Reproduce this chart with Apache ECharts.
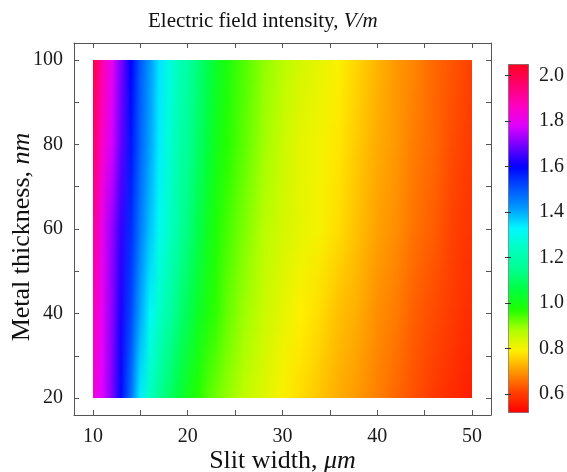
<!DOCTYPE html>
<html>
<head>
<meta charset="utf-8">
<script src="https://cdn.jsdelivr.net/npm/echarts@6/dist/echarts.min.js"></script>
<style>
  html, body { margin: 0; background: #fff; }
  #chart { width: 567px; height: 472px; }
</style>
</head>
<body>
<div id="chart"></div>
<script>
// slit width (um) sample columns
const slitWidth = [10, 11, 12, 13, 14, 15, 16, 17, 18, 19, 20, 21, 22, 23, 24,
  26, 28, 30, 32, 34, 36, 38, 40, 42, 44, 46, 48, 50];
// metal thickness (nm) sample rows
const thickness = [20, 40, 60, 80, 100];
// field intensity (V/m), one row per thickness
const field20 = [1.83, 1.78, 1.70, 1.59, 1.47, 1.34, 1.24, 1.16, 1.11, 1.06, 1.01, 0.97, 0.94, 0.92, 0.90,
  0.86, 0.83, 0.795, 0.77, 0.745, 0.72, 0.70, 0.675, 0.65, 0.625, 0.60, 0.58, 0.56];
const field40 = [1.88, 1.80, 1.71, 1.62, 1.52, 1.41, 1.32, 1.25, 1.19, 1.13, 1.08, 1.03, 0.99, 0.96, 0.93,
  0.89, 0.85, 0.82, 0.79, 0.77, 0.74, 0.72, 0.69, 0.67, 0.64, 0.62, 0.60, 0.58];
const field60 = [1.93, 1.81, 1.72, 1.64, 1.55, 1.46, 1.38, 1.31, 1.25, 1.19, 1.13, 1.08, 1.02, 0.98, 0.95,
  0.91, 0.87, 0.84, 0.82, 0.80, 0.77, 0.74, 0.71, 0.69, 0.66, 0.64, 0.61, 0.59];
const field80 = [1.98, 1.86, 1.77, 1.68, 1.58, 1.49, 1.41, 1.34, 1.27, 1.21, 1.16, 1.11, 1.06, 1.01, 0.97,
  0.93, 0.89, 0.85, 0.82, 0.805, 0.78, 0.75, 0.72, 0.70, 0.67, 0.65, 0.62, 0.60];
const field100 = [2.02, 1.90, 1.80, 1.70, 1.60, 1.50, 1.42, 1.35, 1.29, 1.23, 1.18, 1.13, 1.08, 1.03, 0.99,
  0.94, 0.90, 0.87, 0.84, 0.82, 0.795, 0.76, 0.73, 0.70, 0.68, 0.65, 0.63, 0.61];
const fieldRows = [field20, field40, field60, field80, field100];

const xTicks = [10, 15, 20, 25, 30, 35, 40, 45, 50];
const xLabels = [10, 20, 30, 40, 50];
const yTicks = [20, 30, 40, 50, 60, 70, 80, 90, 100];
const yLabels = [20, 40, 60, 80, 100];
const barTicks = [0.6, 0.8, 1.0, 1.2, 1.4, 1.6, 1.8, 2.0];
const barMin = 0.52;
const barMax = 2.05;
// rainbow colour map, evenly spread between barMin and barMax
const rainbow = ['#ff0000', '#ff4000', '#ff9800', '#fff000', '#b0ff00', '#20ff00', '#00ff40', '#00ff90',
  '#00ffc0', '#00f8ff', '#0098ff', '#0050ff', '#0000ff', '#7000ff', '#e000ff', '#ff00c0', '#ff0070', '#ff0020'];

const data = [];
thickness.forEach((t, j) => {
  slitWidth.forEach((w, i) => data.push([w, t, fieldRows[j][i]]));
});

const serif = 'Liberation Serif';
const axisColor = '#555';

// one cell spans two neighbouring columns and two neighbouring rows,
// shaded smoothly between the four corner colours
function renderCell(params, api) {
  const idx = params.dataIndexInside;
  const n = slitWidth.length;
  const i = idx % n;
  const j = Math.floor(idx / n);
  if (i === n - 1 || j === thickness.length - 1) return;
  const up = idx + n;
  const a = api.coord([api.value(0), api.value(1)]);
  const b = api.coord([api.value(0, up + 1), api.value(1, up + 1)]);
  const x0 = Math.round(a[0]);
  const x1 = Math.round(b[0]);
  const yBottom = Math.round(a[1]);
  const yTop = Math.round(b[1]);
  const cLL = api.visual('color');
  const cLR = api.visual('color', idx + 1);
  const cUL = api.visual('color', up);
  const cUR = api.visual('color', up + 1);
  const children = [];
  for (let y = yTop; y < yBottom; y += 2) {
    const h = Math.min(2, yBottom - y);
    const f = (yBottom - (y + h / 2)) / (yBottom - yTop);
    children.push({
      type: 'rect',
      shape: { x: x0, y: y, width: x1 - x0, height: h },
      style: {
        fill: new echarts.graphic.LinearGradient(0, 0, 1, 0, [
          { offset: 0, color: echarts.color.lerp(f, [cLL, cUL]) },
          { offset: 1, color: echarts.color.lerp(f, [cLR, cUR]) }
        ])
      }
    });
  }
  return { type: 'group', children: children };
}

const tickStyle = { inside: true, length: 5, lineStyle: { color: axisColor } };
const lineStyle = { show: true, lineStyle: { color: axisColor, width: 1 } };
const labelStyle = { fontFamily: serif, fontSize: 20, color: '#1a1a1a' };
const nameFont = {
  fontFamily: serif, fontSize: 26, color: '#111',
  rich: { i: { fontFamily: serif, fontSize: 26, fontStyle: 'italic', color: '#111' } }
};

const chart = echarts.init(document.getElementById('chart'));
chart.setOption({
  animation: false,
  title: {
    text: 'Electric field intensity, {i|V/m}',
    left: 143,
    top: 6,
    textStyle: {
      fontFamily: serif, fontSize: 21, fontWeight: 'normal', color: '#111',
      rich: { i: { fontFamily: serif, fontSize: 21, fontStyle: 'italic', color: '#111' } }
    }
  },
  grid: [
    { left: 74, top: 43, width: 417, height: 372, outerBoundsMode: 'none', containLabel: false },
    { left: 508, top: 64, width: 20, height: 348, outerBoundsMode: 'none', containLabel: false }
  ],
  xAxis: [
    {
      type: 'value', gridIndex: 0, position: 'bottom', min: 8, max: 52,
      axisLine: lineStyle,
      axisTick: Object.assign({ customValues: xTicks }, tickStyle),
      axisLabel: Object.assign({ customValues: xLabels, margin: 12 }, labelStyle),
      splitLine: { show: false },
      name: 'Slit width, {i|μm}', nameLocation: 'middle', nameGap: 33, nameMoveOverlap: false,
      nameTextStyle: nameFont
    },
    {
      type: 'value', gridIndex: 0, position: 'top', min: 8, max: 52,
      axisLine: lineStyle,
      axisTick: Object.assign({ customValues: xTicks }, tickStyle),
      axisLabel: { show: false },
      splitLine: { show: false }
    },
    { type: 'value', gridIndex: 1, min: 0, max: 1, show: false }
  ],
  yAxis: [
    {
      type: 'value', gridIndex: 0, position: 'left', min: 16, max: 104,
      axisLine: lineStyle,
      axisTick: Object.assign({ customValues: yTicks }, tickStyle),
      axisLabel: Object.assign({ customValues: yLabels, margin: 11 }, labelStyle),
      splitLine: { show: false },
      name: 'Metal thickness, {i|nm}', nameLocation: 'middle', nameGap: 39, nameRotate: 90,
      nameMoveOverlap: false,
      nameTextStyle: Object.assign({ padding: [0, 16, 0, 0] }, nameFont)
    },
    {
      type: 'value', gridIndex: 0, position: 'right', min: 16, max: 104,
      axisLine: lineStyle,
      axisTick: Object.assign({ customValues: yTicks }, tickStyle),
      axisLabel: { show: false },
      splitLine: { show: false }
    },
    {
      type: 'value', gridIndex: 1, position: 'right', min: barMin, max: barMax,
      axisLine: { show: false },
      axisTick: { inside: true, length: 3, customValues: barTicks, lineStyle: { color: '#333' } },
      axisLabel: Object.assign({ customValues: barTicks, margin: 11, formatter: v => v.toFixed(1) }, labelStyle),
      splitLine: { show: false },
      z: 10
    },
    {
      type: 'value', gridIndex: 1, position: 'left', min: barMin, max: barMax,
      axisLine: { show: false },
      axisTick: { inside: true, length: 3, customValues: barTicks, lineStyle: { color: '#333' } },
      axisLabel: { show: false },
      splitLine: { show: false },
      z: 10
    }
  ],
  visualMap: {
    type: 'continuous',
    min: barMin, max: barMax,
    dimension: 2, seriesIndex: 0,
    calculable: false, hoverLink: false,
    orient: 'vertical',
    left: 508, top: 64,
    itemWidth: 20, itemHeight: 348,
    padding: 0,
    borderColor: '#666', borderWidth: 1,
    inRange: { color: rainbow }
  },
  series: [{
    type: 'custom',
    coordinateSystem: 'cartesian2d',
    xAxisIndex: 0, yAxisIndex: 0,
    clip: true,
    renderItem: renderCell,
    data: data
  }]
});
</script>
</body>
</html>
